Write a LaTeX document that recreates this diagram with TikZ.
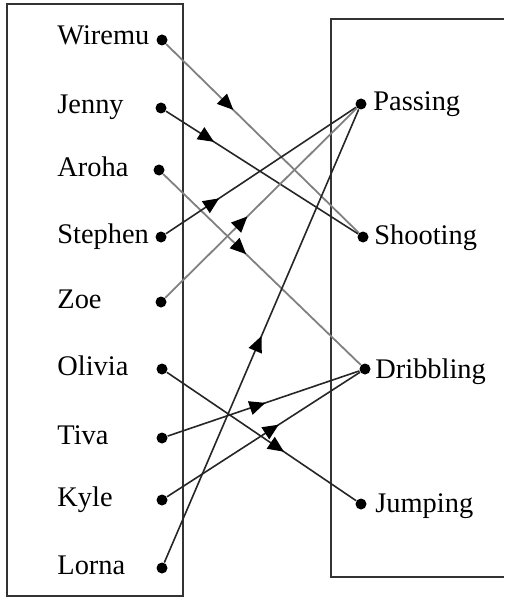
\documentclass[tikz,border=0pt]{standalone}
\usepackage{fontspec}
\setmainfont{Liberation Serif}
\usetikzlibrary{arrows.meta,decorations.markings}

\tikzset{
  dot/.style={circle, fill=black, inner sep=0pt, minimum size=5.5pt},
  lbl/.style={anchor=base west, inner sep=0pt, font=\fontsize{14.2}{17}\selectfont},
  link/.style={line width=0.8pt, black!85},
  glink/.style={line width=0.9pt, black!50},
  midarrow/.style={postaction={decorate}, decoration={markings,
      mark=at position #1 with {\arrow[black]{Triangle[length=8pt,width=7pt]}}}}
}

\begin{document}
\begin{tikzpicture}[x=0.5pt, y=-0.5pt]
    \useasboundingbox (0,0) rectangle (504,599);

    % 两个框
    \draw[line width=0.8pt, black!80] (7,4) rectangle (183,596);
    \draw[line width=0.8pt, black!80] (504,19) -- (331,19) -- (331,577) -- (504,577);

    % 左边：球员
    \node[dot] (wiremu) at (162,40) {};
    \node[lbl] (wiremu-t) at (57,45) {Wiremu};
    \node[dot] (jenny) at (161,108) {};
    \node[lbl] (jenny-t) at (57,113) {Jenny};
    \node[dot] (aroha) at (159,170) {};
    \node[lbl] (aroha-t) at (57,176) {Aroha};
    \node[dot] (stephen) at (161,237) {};
    \node[lbl] (stephen-t) at (57,243) {Stephen};
    \node[dot] (zoe) at (161,302) {};
    \node[lbl] (zoe-t) at (57,308) {Zoe};
    \node[dot] (olivia) at (162,369) {};
    \node[lbl] (olivia-t) at (57,375) {Olivia};
    \node[dot] (tiva) at (162,438) {};
    \node[lbl] (tiva-t) at (57,444) {Tiva};
    \node[dot] (kyle) at (162,500) {};
    \node[lbl] (kyle-t) at (57,506) {Kyle};
    \node[dot] (lorna) at (162,568) {};
    \node[lbl] (lorna-t) at (57,574) {Lorna};

    % 右边：技能
    \node[dot] (passing) at (361,104) {};
    \node[lbl] (passing-t) at (373,111) {Passing};
    \node[dot] (shooting) at (363,237) {};
    \node[lbl] (shooting-t) at (374,244) {Shooting};
    \node[dot] (dribbling) at (365,369) {};
    \node[lbl] (dribbling-t) at (375,378) {Dribbling};
    \node[dot] (jumping) at (361,504) {};
    \node[lbl] (jumping-t) at (375,512) {Jumping};

    % 箭头
    \draw[glink, midarrow=0.35] (wiremu) -- (shooting);
    \draw[link, midarrow=0.25] (jenny) -- (shooting);
    \draw[glink, midarrow=0.42] (aroha) -- (dribbling);
    \draw[link, midarrow=0.28] (stephen) -- (passing);
    \draw[glink, midarrow=0.43] (zoe) -- (passing);
    \draw[link, midarrow=0.5] (lorna) -- (passing);
    \draw[link, midarrow=0.62] (olivia) -- (jumping);
    \draw[link, midarrow=0.51] (tiva) -- (dribbling);
    \draw[link, midarrow=0.58] (kyle) -- (dribbling);
\end{tikzpicture}
\end{document}
